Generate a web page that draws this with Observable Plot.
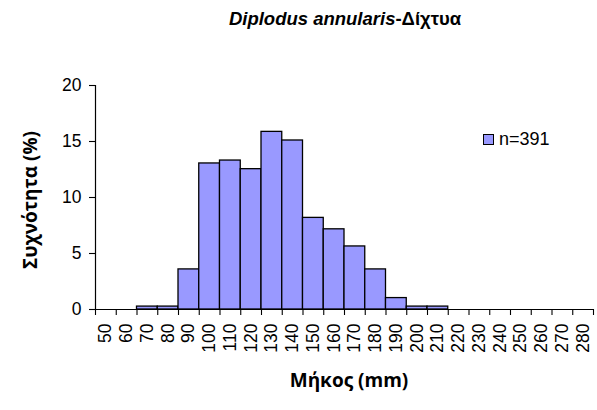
<!DOCTYPE html>
<html>
<head>
<meta charset="utf-8">
<script src="https://cdn.jsdelivr.net/npm/d3@7"></script>
<script src="https://cdn.jsdelivr.net/npm/@observablehq/plot@0.6"></script>
<style>
  html, body { margin: 0; padding: 0; background: #fff; }
  #wrap { position: relative; width: 597px; height: 410px; overflow: hidden; }
  #wrap svg { position: absolute; left: 0; top: 0; }
  .t { position: absolute; white-space: nowrap; color: #000; line-height: 1.2; }
</style>
</head>
<body>
<div id="wrap"></div>
<script>
// Length classes (mm) — category labels on the x axis
const lengths = [50, 60, 70, 80, 90, 100, 110, 120, 130, 140, 150, 160, 170, 180, 190, 200, 210, 220, 230, 240, 250, 260, 270, 280];
// Frequency (%) per length class
const freq = [0, 0, 0.26, 0.26, 3.58, 13.04, 13.30, 12.53, 15.86, 15.09, 8.18, 7.16, 5.63, 3.58, 1.02, 0.26, 0.26, 0, 0, 0, 0, 0, 0, 0];
const yTicks = [0, 5, 10, 15, 20];
const titleItalic = "Diplodus annularis";
const titleRest = "-Δίχτυα";
const yTitle = "Συχνότητα (%)";
const xTitle = "Μήκος (mm)";
const legendLabel = "n=391";
const barColor = "#9999FF";

const step = 10;
const data = lengths.map((l, i) => ({len: l, f: freq[i]}));
const bounds = lengths.map(l => l - step / 2).concat([lengths[lengths.length - 1] + step / 2]);

const chart = Plot.plot({
  width: 597,
  height: 410,
  marginLeft: 95,
  marginRight: 4,
  marginTop: 85,
  marginBottom: 101,
  style: {fontFamily: "'Liberation Sans', Arial, sans-serif", fontSize: "17.5px", background: "transparent"},
  x: {type: "linear", domain: [bounds[0], bounds[bounds.length - 1]]},
  y: {domain: [0, 20]},
  marks: [
    Plot.rectY(data.filter(d => d.f > 0), {x1: d => d.len - step / 2, x2: d => d.len + step / 2, y: "f", fill: barColor, stroke: "#000", strokeWidth: 1.3}),
    Plot.axisY({ticks: yTicks, tickSize: 6, tickPadding: 8, label: null, fontSize: 17.5, strokeWidth: 1.1}),
    Plot.axisX({ticks: bounds, tickSize: 6, tickFormat: () => "", label: null, strokeWidth: 1.1, stroke: "#000"}),
    Plot.axisX({ticks: lengths, tickSize: 0, tickPadding: 14, tickRotate: -90, tickFormat: d => String(d), label: null, fontSize: 17.5}),
    Plot.ruleY([0], {stroke: "#000", strokeWidth: 1.2}),
    Plot.ruleX([bounds[0]], {stroke: "#000", strokeWidth: 1.2})
  ]
});

const wrap = document.getElementById("wrap");
wrap.appendChild(chart);

function addText(html, style) {
  const d = document.createElement("div");
  d.className = "t";
  d.innerHTML = html;
  Object.assign(d.style, style);
  wrap.appendChild(d);
  return d;
}

// Title
addText(`<i>${titleItalic}</i>${titleRest}`, {
  left: "0px", width: "690px", top: "8px", textAlign: "center",
  fontFamily: "'Liberation Sans', Arial, sans-serif", fontWeight: "bold", fontSize: "18.5px"
});

// Y-axis title (rotated)
addText(yTitle, {
  left: "30px", top: "200px", transform: "translate(-50%, -50%) rotate(-90deg)",
  fontFamily: "'Open Sans', sans-serif", fontWeight: "bold", fontSize: "19px", lineHeight: "1"
});

// X-axis title
addText(xTitle, {
  left: "0px", width: "698px", top: "369px", textAlign: "center",
  fontFamily: "'Open Sans', sans-serif", fontWeight: "bold", fontSize: "19px"
});

// Legend
addText(`<span style="display:inline-block;width:9px;height:9px;background:${barColor};border:1.3px solid #000;vertical-align:middle;margin-right:5px;position:relative;top:-1px"></span>${legendLabel}`, {
  left: "483px", top: "129px",
  fontFamily: "'Liberation Sans', Arial, sans-serif", fontSize: "18px"
});
</script>
</body>
</html>
